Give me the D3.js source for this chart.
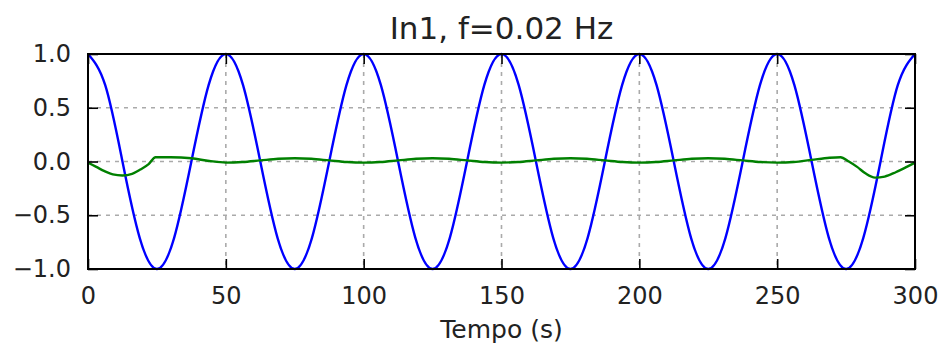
<!DOCTYPE html>
<html>
<head>
<meta charset="utf-8">
<script src="https://cdn.jsdelivr.net/npm/d3@7"></script>
<style>
  body { margin: 0; background: #fff; }
  text { font-family: "DejaVu Sans", sans-serif; fill: #222; }
</style>
</head>
<body>
<svg id="chart" width="939" height="346"></svg>
<script>
// valores
const xTicks = [0, 50, 100, 150, 200, 250, 300];
const yTicks = [-1.0, -0.5, 0.0, 0.5, 1.0];

// curva azul (entrada), amostrada a cada 6.25 s
const blueStep = 6.25;
const blueValues = [
  1, 0.71, 0, -0.71, -1, -0.71, 0, 0.71,
  1, 0.71, 0, -0.71, -1, -0.71, 0, 0.71,
  1, 0.71, 0, -0.71, -1, -0.71, 0, 0.71,
  1, 0.71, 0, -0.71, -1, -0.71, 0, 0.71,
  1, 0.71, 0, -0.71, -1, -0.71, 0, 0.71,
  1, 0.71, 0, -0.71, -1, -0.71, 0, 0.71,
  1
];

// curva verde (resposta)
const greenTimes = [
  0, 3, 6, 9, 12.5, 16, 19, 22, 24.5, 30, 37.5, 44,
  50, 56, 62.5, 69, 75, 81, 87.5, 94,
  100, 106, 112.5, 119, 125, 131, 137.5, 144,
  150, 156, 162.5, 169, 175, 181, 187.5, 194,
  200, 206, 212.5, 219, 225, 231, 237.5, 244,
  250, 256, 262.5, 269, 273, 276, 279, 282, 285.5, 289, 293, 297, 300
];
const greenValues = [
  -0.01, -0.05, -0.09, -0.12, -0.13, -0.115, -0.075, -0.025, 0.04, 0.04, 0.03, 0.005,
  -0.01, -0.005, 0.01, 0.025, 0.03, 0.025, 0.01, -0.005,
  -0.01, -0.005, 0.01, 0.025, 0.03, 0.025, 0.01, -0.005,
  -0.01, -0.005, 0.01, 0.025, 0.03, 0.025, 0.01, -0.005,
  -0.01, -0.005, 0.01, 0.025, 0.03, 0.025, 0.01, -0.005,
  -0.01, -0.005, 0.015, 0.035, 0.04, 0.0, -0.05, -0.11, -0.15, -0.14, -0.1, -0.05, -0.01
];

const margin = { top: 54, right: 24, bottom: 77, left: 88 };
const width = 939, height = 346;
const innerW = width - margin.left - margin.right;
const innerH = height - margin.top - margin.bottom;

const svg = d3.select("#chart");
const g = svg.append("g").attr("transform", `translate(${margin.left},${margin.top})`);

const x = d3.scaleLinear().domain([0, 300]).range([0, innerW]);
const y = d3.scaleLinear().domain([-1, 1]).range([innerH, 0]);

// grade tracejada
g.append("g")
  .selectAll("line")
  .data(xTicks.slice(1, -1))
  .join("line")
  .attr("x1", d => x(d)).attr("x2", d => x(d))
  .attr("y1", 0).attr("y2", innerH)
  .attr("stroke", "#aaa").attr("stroke-width", 1.6)
  .attr("stroke-dasharray", "4,5");

g.append("g")
  .selectAll("line")
  .data(yTicks.slice(1, -1))
  .join("line")
  .attr("x1", 0).attr("x2", innerW)
  .attr("y1", d => y(d)).attr("y2", d => y(d))
  .attr("stroke", "#aaa").attr("stroke-width", 1.6)
  .attr("stroke-dasharray", "4,5");

// séries
const blueData = blueValues.map((v, i) => [i * blueStep, v]);
const greenData = greenTimes.map((t, i) => [t, greenValues[i]]);

g.append("path")
  .datum(blueData)
  .attr("fill", "none")
  .attr("stroke", "#0000ff")
  .attr("stroke-width", 2.4)
  .attr("d", d3.line().x(d => x(d[0])).y(d => y(d[1])).curve(d3.curveNatural));

g.append("path")
  .datum(greenData)
  .attr("fill", "none")
  .attr("stroke", "#008000")
  .attr("stroke-width", 2.4)
  .attr("d", d3.line().x(d => x(d[0])).y(d => y(d[1])).curve(d3.curveMonotoneX));

// eixos (ticks para dentro, como no matplotlib clássico)
const fmtY = d => d3.format(".1f")(d).replace("-", "\u2212");
const tickLen = 10;

const axBottom = g.append("g").attr("transform", `translate(0,${innerH})`)
  .call(d3.axisBottom(x).tickValues(xTicks).tickSize(-tickLen).tickPadding(tickLen + 8).tickFormat(d3.format("d")));
const axTop = g.append("g")
  .call(d3.axisTop(x).tickValues(xTicks).tickSize(-tickLen).tickFormat(""));
const axLeft = g.append("g")
  .call(d3.axisLeft(y).tickValues(yTicks).tickSize(-tickLen).tickPadding(tickLen + 7).tickFormat(fmtY));
const axRight = g.append("g").attr("transform", `translate(${innerW},0)`)
  .call(d3.axisRight(y).tickValues(yTicks).tickSize(-tickLen).tickFormat(""));

[axBottom, axTop, axLeft, axRight].forEach(a => {
  a.select(".domain").remove();
  a.selectAll(".tick line").attr("stroke", "#000").attr("stroke-width", 1.6);
  a.selectAll("text").attr("font-size", 24).attr("fill", "#222");
});

// moldura
g.append("rect")
  .attr("width", innerW).attr("height", innerH)
  .attr("fill", "none").attr("stroke", "#000").attr("stroke-width", 2);

// título e rótulo
svg.append("text")
  .attr("x", margin.left + innerW / 2).attr("y", 39)
  .attr("text-anchor", "middle").attr("font-size", 31)
  .text("In1, f=0.02 Hz");

svg.append("text")
  .attr("x", margin.left + innerW / 2).attr("y", 338)
  .attr("text-anchor", "middle").attr("font-size", 25)
  .text("Tempo (s)");
</script>
</body>
</html>
